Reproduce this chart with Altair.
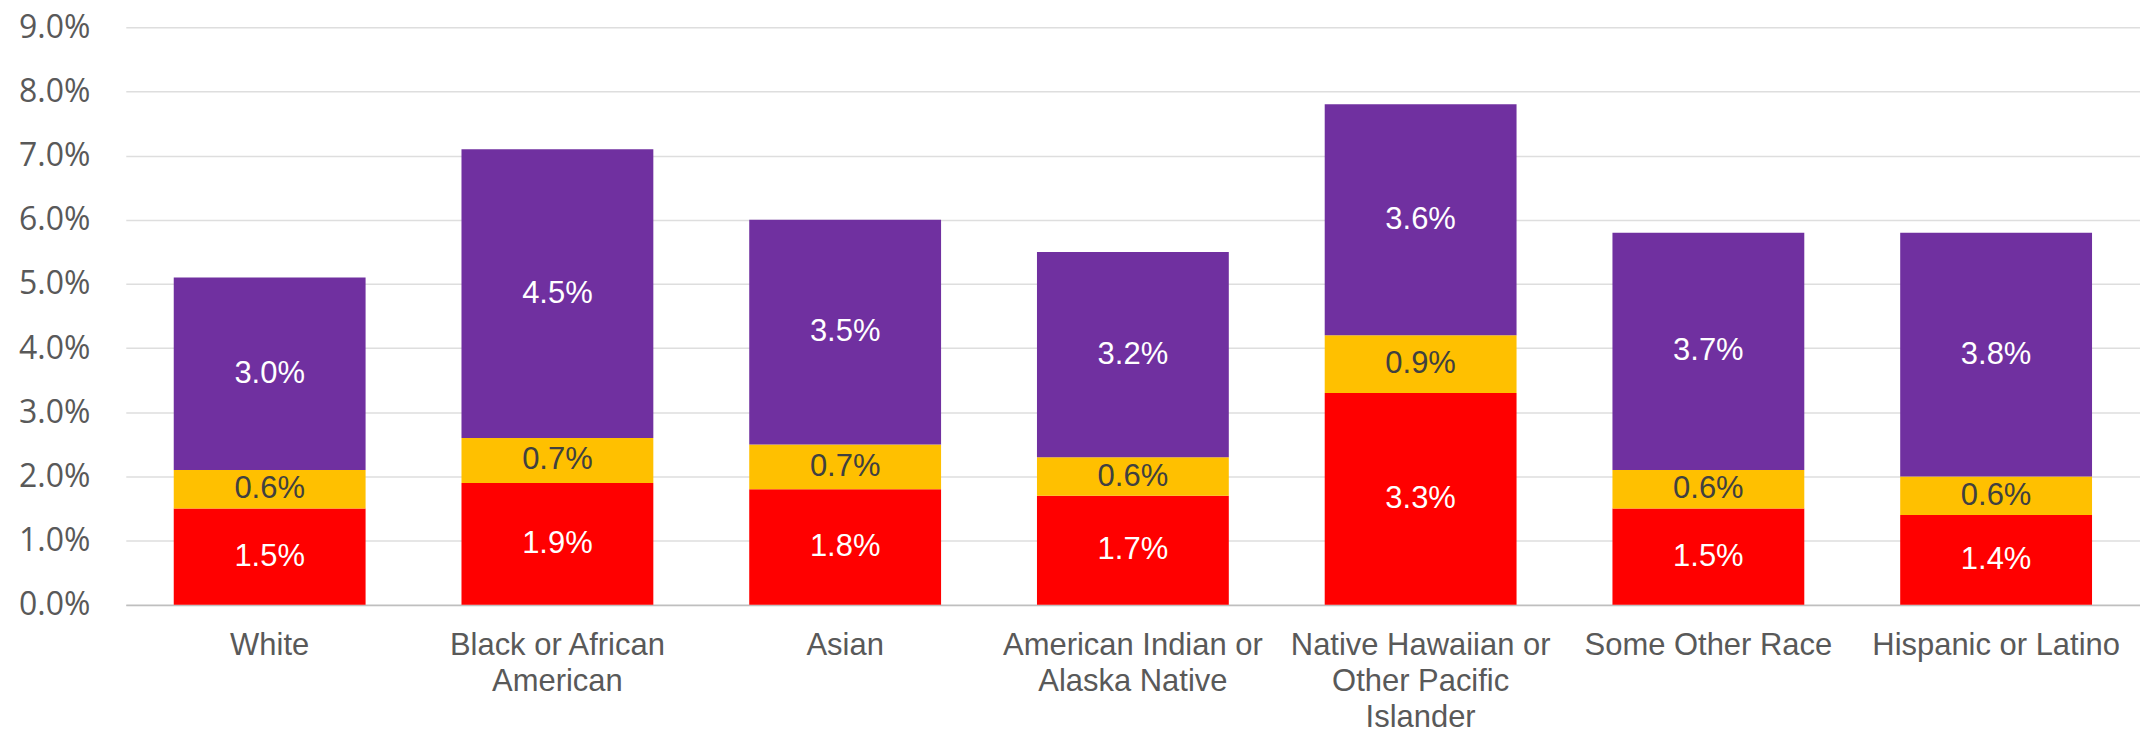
import altair as alt
import pandas as pd

categories = [
    "White",
    "Black or African|American",
    "Asian",
    "American Indian or|Alaska Native",
    "Native Hawaiian or|Other Pacific|Islander",
    "Some Other Race",
    "Hispanic or Latino",
]
series_names = ["Segment 1", "Segment 2", "Segment 3"]
series_colors = ["#FF0000", "#FFC000", "#7030A0"]
label_colors = ["#FFFFFF", "#404040", "#FFFFFF"]

red_vals = [1.5, 1.9, 1.8, 1.7, 3.3, 1.5, 1.4]
yellow_vals = [0.6, 0.7, 0.7, 0.6, 0.9, 0.6, 0.6]
purple_vals = [3.0, 4.5, 3.5, 3.2, 3.6, 3.7, 3.8]

y_ticks = [0, 1, 2, 3, 4, 5, 6, 7, 8, 9]

rows = []
for order, (name, vals) in enumerate(zip(series_names, [red_vals, yellow_vals, purple_vals])):
    for cat, v in zip(categories, vals):
        rows.append({"cat": cat, "series": name, "order": order, "value": v})
df = pd.DataFrame(rows)

base = alt.Chart(df).transform_stack(
    stack="value",
    groupby=["cat"],
    as_=["y0", "y1"],
    sort=[alt.SortField("order", order="ascending")],
).transform_calculate(
    mid="(datum.y0 + datum.y1) / 2",
    lbl="format(datum.value, '.1f') + '%'",
)

x_enc = alt.X(
    "cat:N",
    sort=categories,
    scale=alt.Scale(paddingInner=0.3333, paddingOuter=0.1667),
    axis=alt.Axis(
        title=None,
        labelAngle=0,
        labelExpr="split(datum.label, '|')",
        labelFont="Liberation Sans",
        labelFontSize=31,
        labelColor="#595959",
        labelLineHeight=36,
        labelPadding=26,
        labelBaseline="top",
        labelLimit=0,
        ticks=False,
        tickSize=0,
        domainColor="#BFBFBF",
        domainWidth=1.5,
        grid=False,
    ),
)

y_scale = alt.Scale(domain=[0, 9], nice=False)

bars = base.mark_bar().encode(
    x=x_enc,
    y=alt.Y(
        "y0:Q",
        scale=y_scale,
        axis=alt.Axis(
            title=None,
            values=y_ticks,
            labelExpr="format(datum.value, '.1f') + '%'",
            labelFont="Open Sans",
            labelFontSize=32,
            labelColor="#595959",
            labelPadding=36,
            labelLimit=0,
            ticks=False,
            tickSize=0,
            domain=False,
            grid=True,
            gridColor="#DEDEDE",
            gridWidth=1.5,
        ),
    ),
    y2="y1:Q",
    color=alt.Color(
        "series:N",
        scale=alt.Scale(domain=series_names, range=series_colors),
        legend=None,
    ),
)

labels = base.mark_text(
    font="Liberation Sans", fontSize=31, baseline="middle", align="center"
).encode(
    x=alt.X("cat:N", sort=categories),
    y=alt.Y("mid:Q", scale=y_scale),
    text="lbl:N",
    color=alt.Color(
        "series:N",
        scale=alt.Scale(domain=series_names, range=label_colors),
        legend=None,
    ),
)

chart = (
    alt.layer(bars, labels)
    .resolve_scale(color="independent")
    .properties(
        width=2018,
        height=578.6,
        padding={"left": 118, "top": 18.7, "right": 0, "bottom": 128},
        autosize=alt.AutoSizeParams(type="none"),
        background="#FFFFFF",
    )
    .configure_view(stroke=None)
)

chart.save("out.html", embed_options={"renderer": "svg", "actions": False})
